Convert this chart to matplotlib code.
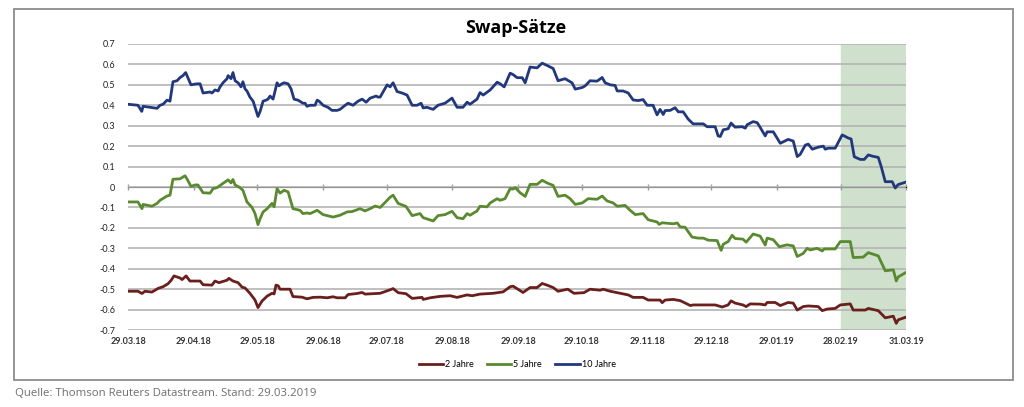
import datetime as dt
import matplotlib
matplotlib.use('Agg')
import matplotlib.pyplot as plt
from matplotlib.patches import Rectangle

# days since 29.03.18 and rate in percent
t10 = [0, 4.7, 6.5, 7.1, 13.7, 15.1, 16.5, 18.4, 19.8, 21.2, 23.1, 24.5, 25.9, 27.2, 29.7, 32.5, 34.0,
       35.4, 38.7, 39.6, 41.0, 42.5, 43.4, 44.8, 46.7, 47.2, 48.6, 49.5, 50.5, 51.9, 53.3, 54.2, 55.2,
       56.1, 57.5, 59.0, 59.9, 61.3, 62.3, 63.7, 65.1, 66.0, 67.0, 68.4, 69.8, 70.3, 71.2, 72.6, 73.6,
       75.5, 76.9, 78.3, 80.2, 82.5, 83.5, 84.4, 85.9, 88.2, 89.2, 90.1, 92.0, 94.3, 96.2, 98.6, 100.0,
       102.4, 103.8, 106.1, 108.5, 110.4, 112.3, 114.2, 115.6, 117.0, 117.9, 118.9, 122.2, 123.6, 125.0,
       126.9, 129.2, 131.6, 134.0, 136.3, 138.2, 139.2, 141.0, 143.9, 146.2, 149.5, 152.8, 155.2, 158.0,
       159.9, 161.3, 164.6, 166.0, 167.5, 170.8, 174.1, 175.5, 177.4, 180.2, 181.6, 183.5, 185.9, 187.3,
       189.6, 192.9, 195.3, 197.6, 200.5, 202.8, 206.1, 209.4, 210.9, 214.2, 215.6, 217.9, 221.2, 223.6,
       225.0, 227.4, 229.7, 230.7, 233.5, 235.9, 238.2, 240.6, 242.9, 244.8, 247.6, 249.5, 250.9, 252.4,
       253.3, 255.7, 258.0, 259.5, 261.8, 264.2, 266.5, 271.3, 273.1, 276.9, 278.3, 279.3, 280.7, 283.0,
       284.4, 286.3, 289.6, 291.1, 292.0, 294.8, 296.7, 298.1, 300.5, 301.4, 304.3, 307.6, 311.3, 313.7,
       315.6, 317.0, 319.4, 320.8, 322.7, 325.5, 327.9, 328.8, 330.2, 333.5, 336.8, 339.6, 341.0, 342.5,
       345.3, 347.2, 349.1, 351.4, 353.8, 355.2, 357.1, 360.4, 361.8, 363.2, 366.5]
v10 = [0.405, 0.40, 0.37, 0.395, 0.385, 0.40, 0.405, 0.425, 0.42, 0.515, 0.52, 0.535, 0.545, 0.56, 0.50,
       0.505, 0.505, 0.46, 0.465, 0.46, 0.475, 0.47, 0.49, 0.51, 0.53, 0.545, 0.53, 0.56, 0.52, 0.51,
       0.49, 0.515, 0.48, 0.47, 0.44, 0.42, 0.39, 0.345, 0.37, 0.42, 0.425, 0.43, 0.445, 0.43, 0.49,
       0.51, 0.495, 0.505, 0.51, 0.505, 0.48, 0.43, 0.425, 0.41, 0.41, 0.395, 0.40, 0.40, 0.425, 0.42,
       0.40, 0.39, 0.375, 0.375, 0.38, 0.40, 0.41, 0.40, 0.42, 0.43, 0.415, 0.435, 0.44, 0.445, 0.44,
       0.44, 0.50, 0.49, 0.51, 0.467, 0.46, 0.45, 0.40, 0.40, 0.41, 0.387, 0.39, 0.38, 0.40, 0.41, 0.435,
       0.39, 0.39, 0.415, 0.405, 0.43, 0.462, 0.45, 0.475, 0.513, 0.505, 0.49, 0.557, 0.55, 0.535, 0.535,
       0.51, 0.587, 0.583, 0.606, 0.595, 0.58, 0.52, 0.53, 0.51, 0.479, 0.487, 0.495, 0.52, 0.518, 0.536,
       0.51, 0.50, 0.497, 0.47, 0.47, 0.46, 0.426, 0.423, 0.428, 0.40, 0.40, 0.353, 0.38, 0.355, 0.374,
       0.375, 0.388, 0.368, 0.368, 0.332, 0.309, 0.309, 0.295, 0.295, 0.25, 0.247, 0.28, 0.285, 0.313,
       0.293, 0.295, 0.288, 0.305, 0.32, 0.315, 0.292, 0.25, 0.27, 0.27, 0.214, 0.233, 0.225, 0.149, 0.16,
       0.205, 0.21, 0.185, 0.195, 0.20, 0.185, 0.19, 0.19, 0.255, 0.24, 0.235, 0.148, 0.135, 0.135, 0.157,
       0.15, 0.145, 0.10, 0.026, 0.026, -0.005, 0.012, 0.023]

t5 = [0, 4.7, 6.6, 7.1, 11.3, 13.7, 15.1, 17.5, 18.4, 19.8, 21.2, 24.5, 26.9, 27.8, 29.7, 31.6, 33.0,
      35.4, 38.7, 40.1, 42.0, 44.8, 47.2, 48.6, 49.5, 50.5, 52.4, 54.2, 56.1, 58.5, 59.9, 61.3, 62.3,
      63.7, 65.6, 67.9, 68.9, 70.3, 71.7, 73.6, 75.5, 77.8, 81.1, 82.5, 84.4, 85.9, 89.2, 92.0, 96.7,
      100.0, 103.3, 105.7, 109.4, 111.8, 114.2, 116.5, 118.9, 121.3, 123.6, 125.0, 127.4, 131.1, 134.0,
      137.7, 139.2, 143.9, 146.2, 149.5, 152.8, 155.2, 158.0, 159.9, 161.3, 164.6, 166.0, 169.3, 170.8,
      174.1, 175.5, 177.8, 180.2, 181.6, 182.6, 184.9, 187.3, 189.6, 192.9, 195.3, 197.6, 200.5, 202.8,
      206.1, 208.5, 210.9, 214.2, 217.0, 221.2, 223.6, 225.9, 228.8, 230.7, 234.4, 236.8, 239.2, 242.9,
      245.3, 249.5, 250.5, 251.9, 257.1, 259.0, 260.4, 262.7, 266.0, 268.9, 271.3, 273.6, 277.8, 279.7,
      280.7, 283.0, 284.9, 286.3, 290.0, 291.5, 294.8, 298.1, 300.5, 301.4, 304.3, 307.1, 310.8, 313.7,
      315.6, 318.4, 320.3, 321.7, 325.0, 327.4, 328.3, 333.5, 335.9, 340.6, 342.0, 346.7, 349.1, 353.8,
      357.1, 360.9, 362.3, 363.2, 366.5]
v5 = [-0.073, -0.073, -0.106, -0.085, -0.094, -0.08, -0.065, -0.05, -0.044, -0.04, 0.038, 0.04, 0.055,
      0.04, 0.003, 0.01, 0.01, -0.028, -0.03, -0.008, -0.003, 0.018, 0.035, 0.02, 0.037, 0.01, 0.0,
      -0.016, -0.073, -0.1, -0.13, -0.184, -0.155, -0.122, -0.106, -0.08, -0.097, -0.008, -0.03, -0.016,
      -0.024, -0.106, -0.114, -0.13, -0.127, -0.13, -0.114, -0.135, -0.147, -0.138, -0.122, -0.12,
      -0.106, -0.117, -0.106, -0.093, -0.10, -0.075, -0.05, -0.04, -0.08, -0.095, -0.14, -0.13, -0.15,
      -0.166, -0.14, -0.135, -0.119, -0.15, -0.155, -0.13, -0.138, -0.117, -0.094, -0.097, -0.078,
      -0.057, -0.065, -0.057, -0.008, -0.01, -0.003, -0.028, -0.046, 0.013, 0.013, 0.033, 0.02, 0.008,
      -0.046, -0.04, -0.057, -0.085, -0.078, -0.057, -0.06, -0.044, -0.068, -0.078, -0.094, -0.09,
      -0.114, -0.135, -0.13, -0.16, -0.171, -0.183, -0.175, -0.18, -0.176, -0.195, -0.197, -0.245,
      -0.25, -0.25, -0.26, -0.262, -0.31, -0.28, -0.267, -0.236, -0.252, -0.255, -0.27, -0.23, -0.24,
      -0.284, -0.25, -0.258, -0.292, -0.283, -0.288, -0.34, -0.325, -0.30, -0.308, -0.30, -0.313,
      -0.303, -0.303, -0.267, -0.267, -0.345, -0.343, -0.321, -0.337, -0.41, -0.405, -0.46, -0.44, -0.42]

t2 = [0, 4.7, 6.6, 8.0, 11.3, 14.2, 16.5, 18.9, 20.3, 21.7, 24.5, 25.5, 27.4, 29.2, 34.0, 35.4, 39.6,
      41.0, 42.9, 46.7, 47.6, 49.5, 51.9, 53.8, 55.2, 57.5, 59.9, 61.3, 63.2, 65.6, 67.9, 68.9, 69.8,
      70.8, 71.7, 76.4, 77.8, 82.1, 84.4, 87.3, 90.6, 93.9, 96.7, 98.6, 102.4, 103.8, 108.0, 110.4,
      111.8, 118.9, 123.6, 125.0, 127.4, 131.1, 134.0, 138.7, 139.2, 142.5, 147.2, 151.9, 155.2, 159.9,
      162.3, 166.0, 172.2, 176.9, 180.2, 181.6, 186.3, 189.6, 192.9, 195.3, 197.6, 200.5, 202.8, 207.4,
      210.3, 215.0, 217.9, 222.6, 224.1, 227.4, 232.1, 235.9, 238.2, 242.9, 245.3, 250.9, 251.9, 253.3,
      257.1, 260.4, 265.2, 266.5, 276.9, 280.2, 283.0, 284.4, 286.3, 290.0, 291.5, 293.4, 298.1, 300.5,
      301.4, 305.2, 307.6, 311.3, 313.7, 315.6, 318.4, 320.8, 325.5, 327.4, 329.7, 333.5, 335.9, 340.6,
      342.0, 347.7, 349.1, 353.8, 357.1, 360.9, 362.3, 363.2, 366.5]
v2 = [-0.51, -0.51, -0.521, -0.51, -0.514, -0.496, -0.488, -0.473, -0.457, -0.435, -0.445, -0.453,
      -0.435, -0.46, -0.46, -0.478, -0.48, -0.46, -0.468, -0.456, -0.447, -0.46, -0.468, -0.49, -0.494,
      -0.52, -0.553, -0.59, -0.558, -0.534, -0.52, -0.523, -0.48, -0.483, -0.50, -0.50, -0.536, -0.539,
      -0.547, -0.54, -0.539, -0.542, -0.537, -0.542, -0.542, -0.526, -0.521, -0.516, -0.524, -0.52,
      -0.503, -0.497, -0.517, -0.522, -0.545, -0.54, -0.55, -0.542, -0.535, -0.532, -0.54, -0.528,
      -0.532, -0.524, -0.52, -0.513, -0.488, -0.485, -0.516, -0.492, -0.492, -0.472, -0.48, -0.492,
      -0.51, -0.50, -0.52, -0.517, -0.50, -0.505, -0.50, -0.51, -0.52, -0.528, -0.54, -0.54, -0.553,
      -0.553, -0.566, -0.553, -0.55, -0.556, -0.58, -0.577, -0.577, -0.587, -0.577, -0.557, -0.568,
      -0.577, -0.585, -0.572, -0.573, -0.577, -0.565, -0.565, -0.58, -0.565, -0.568, -0.602, -0.585,
      -0.582, -0.585, -0.605, -0.597, -0.594, -0.577, -0.572, -0.602, -0.602, -0.594, -0.605, -0.64,
      -0.632, -0.667, -0.65, -0.638]

start = dt.date(2018, 3, 29)
tick_dates = [dt.date(2018, 3, 29), dt.date(2018, 4, 29), dt.date(2018, 5, 29), dt.date(2018, 6, 29),
              dt.date(2018, 7, 29), dt.date(2018, 8, 29), dt.date(2018, 9, 29), dt.date(2018, 10, 29),
              dt.date(2018, 11, 29), dt.date(2018, 12, 29), dt.date(2019, 1, 29), dt.date(2019, 2, 28),
              dt.date(2019, 3, 31)]
highlight = (dt.date(2019, 2, 28), dt.date(2019, 3, 31))

ticks = [(d - start).days for d in tick_dates]
labels = [d.strftime('%d.%m.%y') for d in tick_dates]

plt.rcParams['font.family'] = ['Lato', 'DejaVu Sans']

fig = plt.figure(figsize=(10.24, 4.07), dpi=100)
ax = fig.add_axes([0.125, 0.189, 0.76, 0.703])

# outer frame
fig.patches.append(Rectangle((14 / 1024, 1 - 380 / 407), 999 / 1024, 371 / 407,
                             transform=fig.transFigure, fill=False, ec='#8c8c8c', lw=1.3))

ax.axvspan((highlight[0] - start).days, (highlight[1] - start).days, color='#cfe1cd', zorder=0)

ax.plot(t2, v2, color='#6b1f1d', lw=2, label='2 Jahre', zorder=3)
ax.plot(t5, v5, color='#5a8a2f', lw=2, label='5 Jahre', zorder=3)
ax.plot(t10, v10, color='#22387c', lw=2, label='10 Jahre', zorder=3)

ax.set_xlim(0, ticks[-1])
ax.set_ylim(-0.7, 0.7)
ax.set_yticks([0.7, 0.6, 0.5, 0.4, 0.3, 0.2, 0.1, 0, -0.1, -0.2, -0.3, -0.4, -0.5, -0.6, -0.7])
ax.set_yticklabels(['0.7', '0.6', '0.5', '0.4', '0.3', '0.2', '0.1', '0', '-0.1', '-0.2', '-0.3',
                    '-0.4', '-0.5', '-0.6', '-0.7'])
ax.yaxis.grid(True, color='#b4b4b4', lw=1.2, zorder=1)
ax.set_axisbelow(True)
ax.tick_params(axis='y', length=0, pad=9, labelsize=6.5, colors='#222222')

ax.set_xticks(ticks)
ax.set_xticklabels(labels, fontweight='bold')
ax.tick_params(axis='x', length=0, pad=5, labelsize=6.5, colors='#333333')
for s in ax.spines.values():
    s.set_visible(False)

# axis line with ticks at zero
zero = ax.secondary_xaxis(0.5)
zero.set_xticks(ticks)
zero.set_xticklabels([])
zero.tick_params(length=4, width=1, color='#a0a0a0', direction='inout')
zero.spines['bottom'].set_color('#a0a0a0')
zero.spines['bottom'].set_linewidth(1.2)

fig.text(0.504, 0.932, 'Swap-Sätze', ha='center', va='center', fontsize=13, fontweight='bold',
         family=['Open Sans', 'DejaVu Sans'])

ax.legend(loc='upper center', bbox_to_anchor=(0.5, -0.075), ncol=3, frameon=False, fontsize=6.5,
          handlelength=2.7, handletextpad=0.2, columnspacing=1.5)

fig.text(0.015, 0.034, 'Quelle: Thomson Reuters Datastream. Stand: 29.03.2019', fontsize=8.2,
         color='#6e6e6e', family=['Open Sans', 'DejaVu Sans'], va='center')

fig.savefig('out.png', dpi=100)
